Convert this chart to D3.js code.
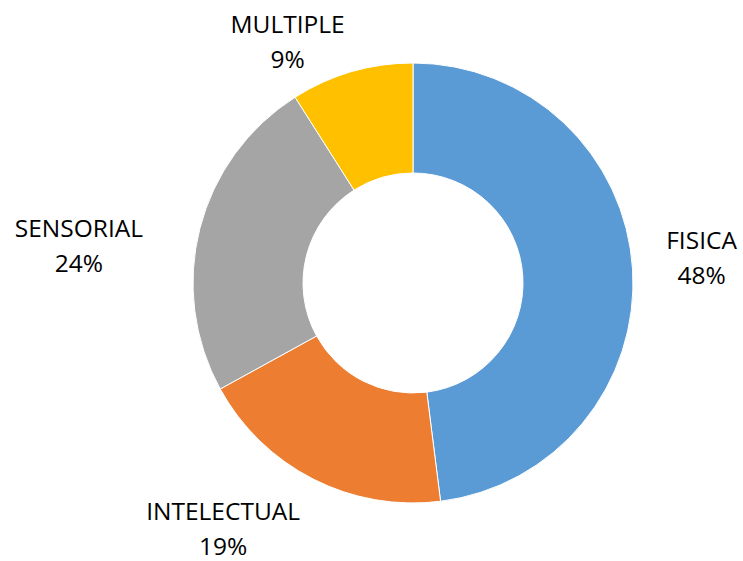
<!DOCTYPE html>
<html>
<head>
<meta charset="utf-8">
<script src="https://cdn.jsdelivr.net/npm/d3@7"></script>
<style>
  html, body { margin: 0; padding: 0; background: #fff; }
  svg { display: block; }
  text { font-family: "Open Sans", "Noto Sans", sans-serif; fill: #000; }
</style>
</head>
<body>
<svg id="chart" width="743" height="561"></svg>
<script>
// Share of cases by type of disability (percent)
const categories = ["FISICA", "INTELECTUAL", "SENSORIAL", "MULTIPLE"];
const values = [48, 19, 24, 9];
const colors = ["#5B9BD5", "#ED7D31", "#A5A5A5", "#FFC000"];

const width = 743, height = 561;
const cx = 413, cy = 283;
const outerR = 220, innerR = 110;

// Label block offsets from the slice's outer mid-point
const labelNudge = {
  FISICA: [69, -12],
  INTELECTUAL: [-90, 50],
  SENSORIAL: [-121, 17],
  MULTIPLE: [-64, -30]
};

const svg = d3.select("#chart");
const g = svg.append("g").attr("transform", `translate(${cx},${cy})`);

const data = categories.map((c, i) => ({ name: c, value: values[i], color: colors[i] }));

const pie = d3.pie().value(d => d.value).sort(null);
const arc = d3.arc().innerRadius(innerR).outerRadius(outerR);
const arcs = pie(data);

g.selectAll("path.slice")
  .data(arcs)
  .join("path")
  .attr("class", "slice")
  .attr("d", arc)
  .attr("fill", d => d.data.color)
  .attr("stroke", "#fff")
  .attr("stroke-width", 1);

const total = d3.sum(values);
const fontSize = 24.5, lineGap = 35;

const labels = g.selectAll("g.label")
  .data(arcs)
  .join("g")
  .attr("class", "label")
  .attr("transform", d => {
    const mid = (d.startAngle + d.endAngle) / 2;
    const px = outerR * Math.sin(mid), py = -outerR * Math.cos(mid);
    const [dx, dy] = labelNudge[d.data.name];
    return `translate(${px + dx},${py + dy})`;
  });

labels.append("text")
  .attr("text-anchor", "middle")
  .attr("y", -8.6)
  .attr("font-size", fontSize)
  .text(d => d.data.name);

labels.append("text")
  .attr("text-anchor", "middle")
  .attr("y", -8.6 + lineGap)
  .attr("font-size", fontSize)
  .text(d => Math.round(d.data.value / total * 100) + "%");
</script>
</body>
</html>
